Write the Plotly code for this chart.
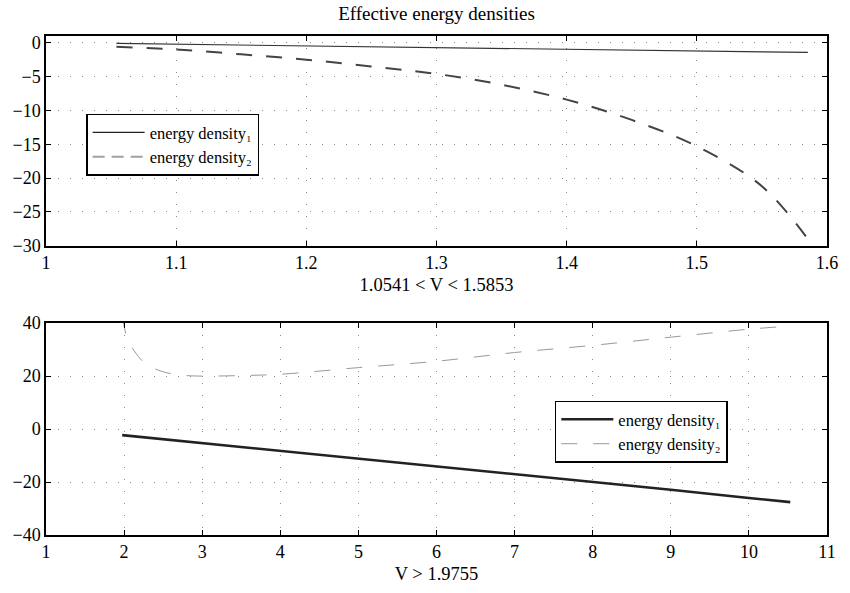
import plotly.graph_objects as go

# Top panel: 1.0541 < V < 1.5853
v_top = [1.0541, 1.1, 1.15, 1.2, 1.25, 1.3, 1.35, 1.4, 1.45, 1.5, 1.55, 1.5853]
e1_top = [-0.1, -0.22, -0.35, -0.48, -0.6, -0.72, -0.85, -0.98, -1.1, -1.23, -1.34, -1.42]
e2_top = [-0.6, -1.0, -1.7, -2.5, -3.5, -4.6, -6.2, -8.4, -11.4, -15.3, -21.2, -29.0]

# Bottom panel: V > 1.9755
v_bot = [1.9755, 3, 4, 5, 6, 7, 8, 9, 10, 10.53]
e1_bot = [-2.3, -5.3, -8.2, -11.0, -13.9, -16.8, -19.8, -22.9, -26.0, -27.6]
v_bot2 = [1.9755, 1.997, 2.04, 2.14, 2.27, 2.44, 2.65, 2.86, 3.0, 3.5, 4.0, 5.0, 6.0, 7.0, 8.0, 9.0, 10.0, 10.53]
e2_bot = [42.0, 39.4, 34.2, 29.1, 24.7, 22.2, 20.6, 20.1, 20.0, 20.2, 20.7, 23.2, 25.6, 28.9, 31.6, 34.7, 37.7, 38.9]

legend_names = ["energy density\u2081", "energy density\u2082"]

FONT = "Liberation Serif"
FS = 18

fig = go.Figure()
# top panel data
fig.add_trace(go.Scatter(x=v_top, y=e1_top, mode="lines", showlegend=False,
                         line=dict(color="#333333", width=1.2), xaxis="x", yaxis="y"))
fig.add_trace(go.Scatter(x=v_top, y=e2_top, mode="lines", showlegend=False,
                         line=dict(color="#444444", width=2, dash="16px,14px", shape="spline"),
                         xaxis="x", yaxis="y"))
# top legend entries
fig.add_trace(go.Scatter(x=[None], y=[None], mode="lines", name=legend_names[0],
                         line=dict(color="#222222", width=1.2), xaxis="x", yaxis="y", legend="legend"))
fig.add_trace(go.Scatter(x=[None], y=[None], mode="lines", name=legend_names[1],
                         line=dict(color="#a0a0a0", width=2, dash="12px,7px"),
                         xaxis="x", yaxis="y", legend="legend"))
# bottom panel
fig.add_trace(go.Scatter(x=v_bot, y=e1_bot, mode="lines", name=legend_names[0],
                         line=dict(color="#222222", width=2.6), xaxis="x2", yaxis="y2", legend="legend2"))
fig.add_trace(go.Scatter(x=v_bot2, y=e2_bot, mode="lines", name=legend_names[1],
                         line=dict(color="#999999", width=1, dash="16px,16px", shape="spline"),
                         xaxis="x2", yaxis="y2", legend="legend2"))

axis_common = dict(showline=True, linecolor="black", linewidth=1.5, mirror="ticks",
                   ticks="inside", ticklen=5, tickcolor="black", tickwidth=1,
                   showgrid=True, gridcolor="#888888", griddash="1px,11px", gridwidth=1,
                   zeroline=False, tickfont=dict(family=FONT, size=FS, color="black"))

legend_common = dict(xanchor="left", yanchor="top", xref="paper", yref="paper",
                     bgcolor="white", bordercolor="black", borderwidth=1.5,
                     font=dict(family=FONT, size=16.5, color="black"), tracegroupgap=0,
                     itemwidth=52, entrywidth=175)

fig.update_layout(
    width=850, height=593,
    paper_bgcolor="white", plot_bgcolor="white",
    margin=dict(l=43, r=15, t=36, b=56),
    font=dict(family=FONT, color="black"),
    title=dict(text="Effective energy densities", x=0.5, xref="paper",
               y=1 - 13 / 593, yanchor="middle",
               font=dict(family=FONT, size=19, color="black")),
    xaxis=dict(domain=[0, 1], range=[1, 1.6], dtick=0.1, anchor="y",
               title=dict(text="1.0541 &lt; V &lt; 1.5853", font=dict(family=FONT, size=18.5), standoff=6),
               **axis_common),
    yaxis=dict(domain=[0.5795, 1], range=[-30, 1], tickvals=[0, -5, -10, -15, -20, -25, -30],
               anchor="x", **axis_common),
    xaxis2=dict(domain=[0, 1], range=[1, 11], dtick=1, anchor="y2",
                title=dict(text="V &gt; 1.9755", font=dict(family=FONT, size=18.5), standoff=6),
                **axis_common),
    yaxis2=dict(domain=[0, 0.4246], range=[-40, 40], dtick=20, anchor="x2", **axis_common),
    legend=dict(x=0.0514, y=0.8443, **legend_common),
    legend2=dict(x=0.6515, y=0.2695, **legend_common),
    showlegend=True,
)

fig.write_html("out.html", config={"displayModeBar": False},
               post_script="document.body.style.margin='0';")
